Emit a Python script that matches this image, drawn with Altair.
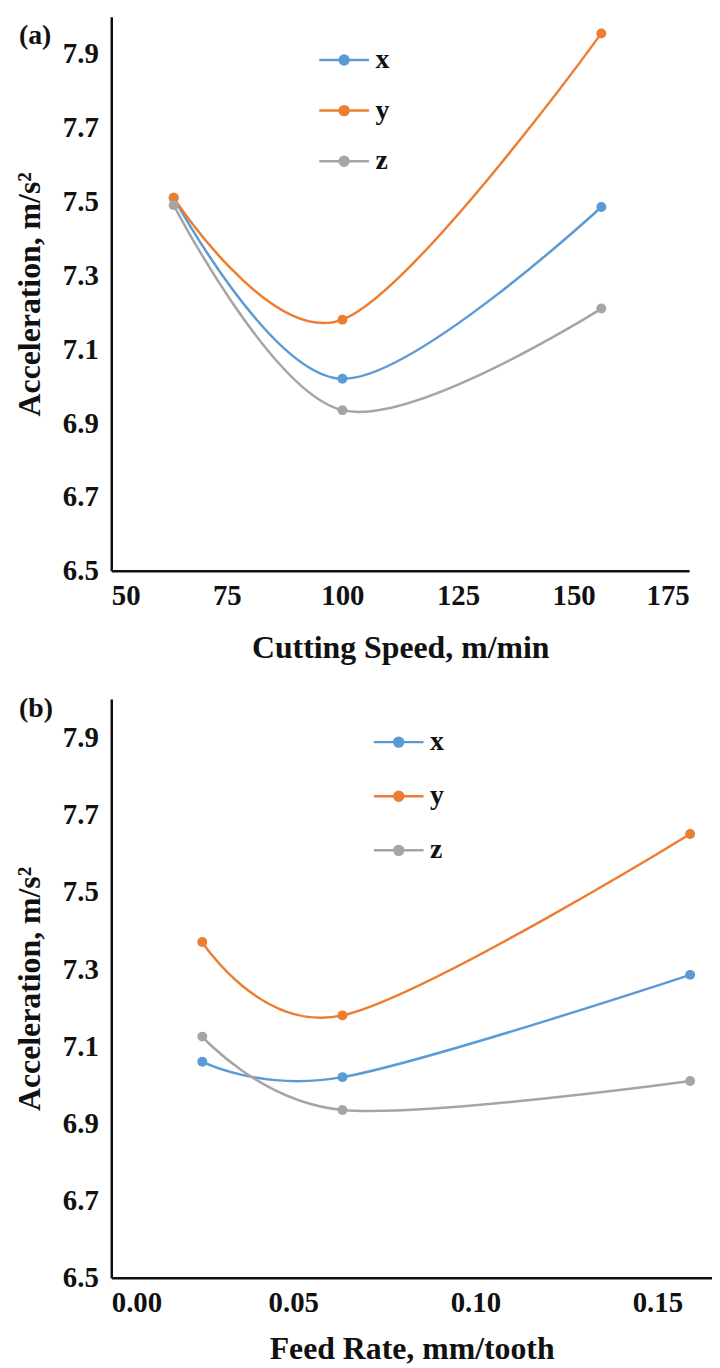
import altair as alt
import pandas as pd

SERIF = "Liberation Serif"

series = ["x", "y", "z"]
colors = ["#5B9BD5", "#ED7D31", "#A5A5A5"]

# Panel (a): cutting speed
speed = [63.5, 100, 156]
acc_speed_x = [7.51, 7.02, 7.485]
acc_speed_y = [7.51, 7.18, 7.955]
acc_speed_z = [7.49, 6.935, 7.21]

# Panel (b): feed rate
feed = [0.025, 0.0635, 0.159]
acc_feed_x = [7.06, 7.02, 7.285]
acc_feed_y = [7.37, 7.18, 7.65]
acc_feed_z = [7.125, 6.935, 7.01]

y_ticks = [6.5, 6.7, 6.9, 7.1, 7.3, 7.5, 7.7, 7.9]
speed_ticks = [50, 75, 100, 125, 150, 175]
feed_ticks = [0.0, 0.05, 0.10, 0.15]


def make_df(xs, sx, sy, sz):
    rows = []
    for name, vals in zip(series, [sx, sy, sz]):
        for xv, yv in zip(xs, vals):
            rows.append({"xv": xv, "acc": yv, "series": name})
    return pd.DataFrame(rows)


df_a = make_df(speed, acc_speed_x, acc_speed_y, acc_speed_z)
df_b = make_df(feed, acc_feed_x, acc_feed_y, acc_feed_z)

SYMBOL = ("M-1,0H1"
          "M-0.18,0a0.18,0.18 0 1,0 0.36,0a0.18,0.18 0 1,0 -0.36,0"
          "M-0.1,0a0.1,0.1 0 1,0 0.2,0a0.1,0.1 0 1,0 -0.2,0"
          "M-0.03,0a0.03,0.03 0 1,0 0.06,0a0.03,0.03 0 1,0 -0.06,0")


def panel(df, xtitle, xdomain, xticks, xfmt, tag, w, h, lx, ly, rowpad,
          x_title_pad, tag_y):
    color = alt.Color(
        "series:N",
        scale=alt.Scale(domain=series, range=colors),
        legend=alt.Legend(
            orient="none", legendX=lx, legendY=ly, title=None,
            symbolType=SYMBOL, symbolSize=2500, symbolStrokeWidth=2.5,
            labelFont=SERIF, labelFontSize=28, labelFontWeight="bold",
            labelColor="#111", labelOffset=5, rowPadding=rowpad, padding=0,
        ),
    )
    lines = alt.Chart(df).mark_line(
        interpolate="cardinal", strokeWidth=2.5,
        point=alt.OverlayMarkDef(filled=True, size=100, opacity=1),
    ).encode(
        x=alt.X("xv:Q",
                scale=alt.Scale(domain=xdomain, nice=False, zero=False),
                axis=alt.Axis(values=xticks, format=xfmt, title=xtitle,
                              titlePadding=x_title_pad, labelPadding=11)),
        y=alt.Y("acc:Q",
                scale=alt.Scale(domain=[6.5, 8.0], nice=False, zero=False),
                axis=alt.Axis(values=y_ticks, format=".1f",
                              title="Acceleration, m/s²",
                              labelPadding=13, titlePadding=16)),
        color=color,
    )
    lab = alt.Chart(pd.DataFrame({"t": [tag]})).mark_text(
        font=SERIF, fontSize=28, fontWeight="bold", align="left",
        baseline="middle", color="#111",
    ).encode(text="t:N", x=alt.value(-93), y=alt.value(tag_y))
    return alt.layer(lines, lab).properties(width=w, height=h)


pa = panel(df_a, "Cutting Speed, m/min", [50, 175], speed_ticks, "d", "(a)",
           582, 558, 208, 17, 10, 22, 19)
pb = panel(df_b, "Feed Rate, mm/tooth", [0, 0.165], feed_ticks, ".2f", "(b)",
           605, 583, 263, 17, 13.5, 16, 10)

chart = alt.vconcat(pa, pb, spacing=32).resolve_legend(
    color="independent"
).properties(
    padding={"left": 5, "top": 4, "right": 0, "bottom": 0}
).configure_view(stroke=None).configure_axis(
    domainColor="#111", domainWidth=2.5, ticks=False, grid=False,
    labelFont=SERIF, labelFontSize=29, labelFontWeight="bold",
    labelColor="#111", titleFont=SERIF, titleFontSize=32,
    titleFontWeight="bold", titleColor="#111",
)

chart.save("out.html", embed_options={"renderer": "svg", "actions": False})
